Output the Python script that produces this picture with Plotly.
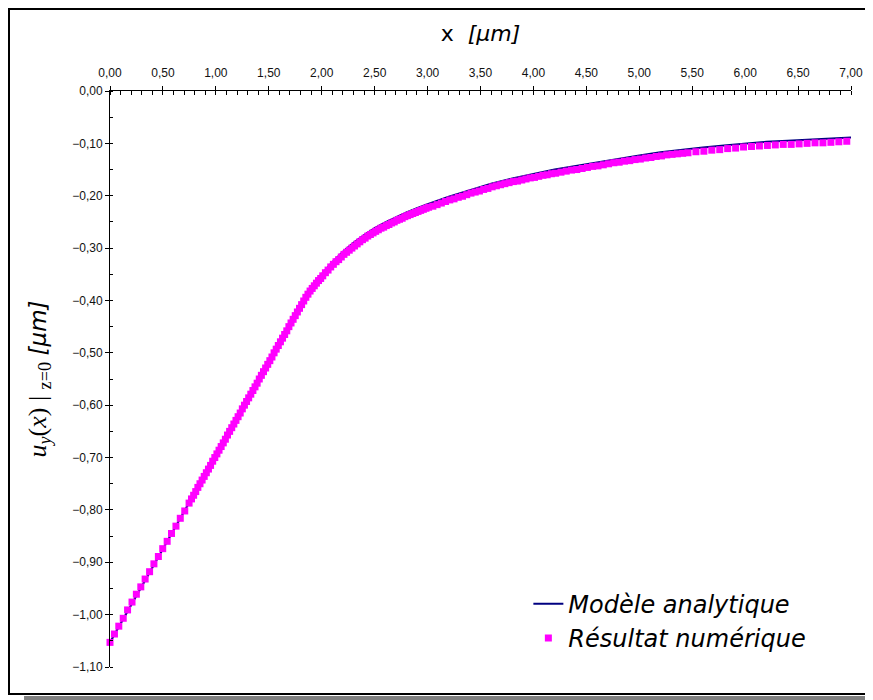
import plotly.graph_objects as go

# analytic model (line)
x_ana = [0.0, 0.25, 0.5, 0.75, 1.0, 1.25, 1.5, 1.7, 1.8, 1.85, 1.9, 1.95, 2.0,
         2.1, 2.2, 2.3, 2.4, 2.5, 2.6, 2.7, 2.8, 2.9, 3.0, 3.2, 3.4, 3.6, 3.8,
         4.0, 4.2, 4.4, 4.6, 4.8, 5.0, 5.2, 5.4, 5.6, 5.8, 6.0, 6.2, 6.4, 6.6,
         6.8, 7.0]
y_ana = [-1.053, -0.964, -0.875, -0.786, -0.697, -0.607, -0.517, -0.446, -0.410,
         -0.392, -0.375, -0.361, -0.349, -0.327, -0.307, -0.290, -0.275, -0.262,
         -0.251, -0.241, -0.232, -0.224, -0.216, -0.202, -0.189, -0.177, -0.167,
         -0.158, -0.150, -0.143, -0.136, -0.129, -0.123, -0.117, -0.112, -0.108,
         -0.104, -0.100, -0.097, -0.095, -0.093, -0.091, -0.089]

# numerical result (markers)
x_num = [0.000, 0.042, 0.083, 0.125, 0.166, 0.208, 0.249, 0.291, 0.332, 0.374,
         0.415, 0.457, 0.498, 0.540, 0.581, 0.623, 0.664, 0.706, 0.747,
         0.77, 0.79, 0.81, 0.83, 0.85, 0.87, 0.89, 0.91, 0.93, 0.95, 0.97, 0.99,
         1.01, 1.03, 1.05, 1.07, 1.09, 1.11, 1.13, 1.15, 1.17, 1.19, 1.21, 1.23,
         1.25, 1.27, 1.29, 1.31, 1.33, 1.35, 1.37, 1.39, 1.41, 1.43, 1.45, 1.47,
         1.49, 1.51, 1.53, 1.55, 1.57, 1.59, 1.61, 1.63, 1.65, 1.67, 1.69, 1.71,
         1.73, 1.75, 1.77, 1.79, 1.81, 1.83, 1.85, 1.87, 1.89, 1.91, 1.93, 1.95,
         1.97, 1.99,
         2.010, 2.035, 2.060, 2.085, 2.110, 2.135, 2.160, 2.185, 2.210, 2.235,
         2.260, 2.285, 2.310, 2.335, 2.360, 2.385, 2.410, 2.435, 2.460, 2.485,
         2.510, 2.535, 2.560, 2.585, 2.610, 2.635, 2.660, 2.685, 2.710, 2.735,
         2.760, 2.785, 2.810, 2.835, 2.860, 2.885, 2.910, 2.935, 2.960, 2.985,
         3.01, 3.05, 3.09, 3.13, 3.17, 3.21, 3.25, 3.29, 3.33, 3.37, 3.41, 3.45,
         3.49, 3.53, 3.57, 3.61, 3.65, 3.69, 3.73, 3.77, 3.81, 3.85, 3.89, 3.93,
         3.97, 4.01, 4.05, 4.09, 4.13, 4.17,
         4.21, 4.26, 4.31, 4.36, 4.41, 4.46, 4.51, 4.56, 4.61, 4.66, 4.71, 4.76,
         4.81, 4.86, 4.91, 4.96, 5.01, 5.06, 5.11, 5.16, 5.21, 5.26, 5.31, 5.36,
         5.41, 5.46,
         5.535, 5.61, 5.685, 5.76, 5.835, 5.91, 5.985, 6.06, 6.135, 6.21, 6.285,
         6.36, 6.435, 6.51, 6.585, 6.66, 6.735, 6.81, 6.885, 6.96]
y_num = [-1.053, -1.037, -1.022, -1.007, -0.991, -0.976, -0.961, -0.947, -0.932,
         -0.918, -0.903, -0.889, -0.874, -0.860, -0.845, -0.831, -0.816, -0.802,
         -0.787,
         -0.779, -0.772, -0.765, -0.757, -0.750, -0.743, -0.736, -0.729, -0.722,
         -0.715, -0.707, -0.700, -0.693, -0.686, -0.679, -0.672, -0.665, -0.657,
         -0.650, -0.643, -0.636, -0.629, -0.622, -0.615, -0.607, -0.600, -0.593,
         -0.586, -0.579, -0.572, -0.565, -0.558, -0.550, -0.543, -0.536, -0.529,
         -0.522, -0.515, -0.508, -0.500, -0.493, -0.486, -0.479, -0.472, -0.465,
         -0.458, -0.450, -0.443, -0.436, -0.429, -0.422, -0.415, -0.408, -0.401,
         -0.394, -0.388, -0.382, -0.377, -0.372, -0.367, -0.362, -0.358,
         -0.353, -0.347, -0.342, -0.336, -0.331, -0.326, -0.322, -0.317, -0.312,
         -0.308, -0.304, -0.300, -0.296, -0.292, -0.288, -0.284, -0.281, -0.277,
         -0.274, -0.271, -0.268, -0.265, -0.262, -0.260, -0.257, -0.255, -0.252,
         -0.250, -0.247, -0.245, -0.243, -0.240, -0.238, -0.236, -0.234, -0.232,
         -0.230, -0.228, -0.226, -0.224,
         -0.222, -0.220, -0.217, -0.214, -0.211, -0.208, -0.206, -0.203, -0.201,
         -0.198, -0.195, -0.193, -0.191, -0.188, -0.186, -0.183, -0.181, -0.179,
         -0.177, -0.175, -0.173, -0.172, -0.170, -0.168, -0.166, -0.165, -0.163,
         -0.161, -0.160, -0.158,
         -0.157, -0.155, -0.153, -0.151, -0.150, -0.148, -0.146, -0.144, -0.143,
         -0.141, -0.139, -0.137, -0.136, -0.134, -0.133, -0.131, -0.130, -0.128,
         -0.127, -0.125, -0.124, -0.122, -0.121, -0.120, -0.119, -0.118,
         -0.116, -0.115, -0.113, -0.112, -0.110, -0.109, -0.107, -0.106, -0.105,
         -0.104, -0.103, -0.102, -0.102, -0.101, -0.100, -0.099, -0.099, -0.098,
         -0.097, -0.096]

x_ticks = [0.0, 0.5, 1.0, 1.5, 2.0, 2.5, 3.0, 3.5, 4.0, 4.5, 5.0, 5.5, 6.0, 6.5, 7.0]
y_ticks = [0.0, -0.1, -0.2, -0.3, -0.4, -0.5, -0.6, -0.7, -0.8, -0.9, -1.0, -1.1]

fig = go.Figure()
fig.add_trace(go.Scatter(
    x=x_ana, y=y_ana, mode="lines", name="<i>Modèle analytique</i>",
    line=dict(color="#000080", width=2), legendgroup="a", cliponaxis=False,
))
fig.add_trace(go.Scatter(
    x=x_num, y=y_num, mode="markers", name="<i>Résultat numérique</i>",
    marker=dict(symbol="square", size=7, color="#FF00FF", line=dict(width=0)),
    legendgroup="b", cliponaxis=False,
))
# dummy trace so the overlay axes (inner half of the crossing ticks) get drawn
fig.add_trace(go.Scatter(x=[None], y=[None], xaxis="x2", yaxis="y2",
                         showlegend=False, hoverinfo="skip"))

tickfont = dict(family="Liberation Sans, Arial", size=12, color="#111")
fig.update_layout(
    width=873, height=700,
    plot_bgcolor="white", paper_bgcolor="white",
    separators=", ",
    margin=dict(l=102, r=30, t=83, b=41),
    showlegend=True,
    legend=dict(
        x=0.5646, y=0.148, xanchor="left", yanchor="top",
        font=dict(family="DejaVu Sans", size=24, color="black"),
        bgcolor="rgba(0,0,0,0)", traceorder="grouped", tracegroupgap=0,
    ),
    xaxis=dict(
        side="top", range=[0, 7], tickvals=x_ticks, tickformat=".2f",
        showline=True, linecolor="black", linewidth=1, showgrid=False,
        zeroline=False, ticks="outside", ticklen=4, tickcolor="black",
        ticklabelstandoff=4, tickfont=tickfont,
        minor=dict(dtick=0.1, ticks="inside", ticklen=4, tickcolor="black",
                   showgrid=False),
        title=dict(text="x  <i>[µm]</i>", standoff=18,
                   font=dict(family="DejaVu Sans", size=22, color="black")),
    ),
    yaxis=dict(
        range=[-1.1, 0], tickvals=y_ticks, tickformat=".2f",
        showline=True, linecolor="black", linewidth=1, showgrid=False,
        zeroline=False, ticks="outside", ticklen=4, tickcolor="black",
        tickfont=tickfont,
        minor=dict(dtick=0.05, ticks="inside", ticklen=3, tickcolor="black",
                   showgrid=False),
        title=dict(
            text="<i>u<sub>y</sub></i>(<i>x</i>) | <sub>z=0</sub> "
                 "<span style='font-family:DejaVu Sans;font-size:23px'><i>[µm]</i></span>",
            standoff=18,
            font=dict(family="Liberation Serif", size=26, color="black"),
        ),
    ),
    xaxis2=dict(overlaying="x", matches="x", side="top", anchor="y",
                tickvals=x_ticks, ticks="inside", ticklen=4, tickcolor="black",
                showticklabels=False, showgrid=False, zeroline=False,
                showline=False),
    yaxis2=dict(overlaying="y", matches="y", side="left", anchor="x",
                tickvals=y_ticks, ticks="inside", ticklen=3, tickcolor="black",
                showticklabels=False, showgrid=False, zeroline=False,
                showline=False),
    shapes=[
        # frame round the chart
        dict(type="rect", xref="paper", yref="paper",
             x0=-0.1363, x1=1.0229, y0=-0.0469, y1=1.1424,
             line=dict(color="black", width=2), layer="below"),
        # grey shadow under the frame
        dict(type="rect", xref="paper", yref="paper",
             x0=-0.116, x1=1.03, y0=-0.0573, y1=-0.0503,
             line=dict(width=0), fillcolor="#808080", layer="below"),
    ],
)

fig.write_html("out.html")
